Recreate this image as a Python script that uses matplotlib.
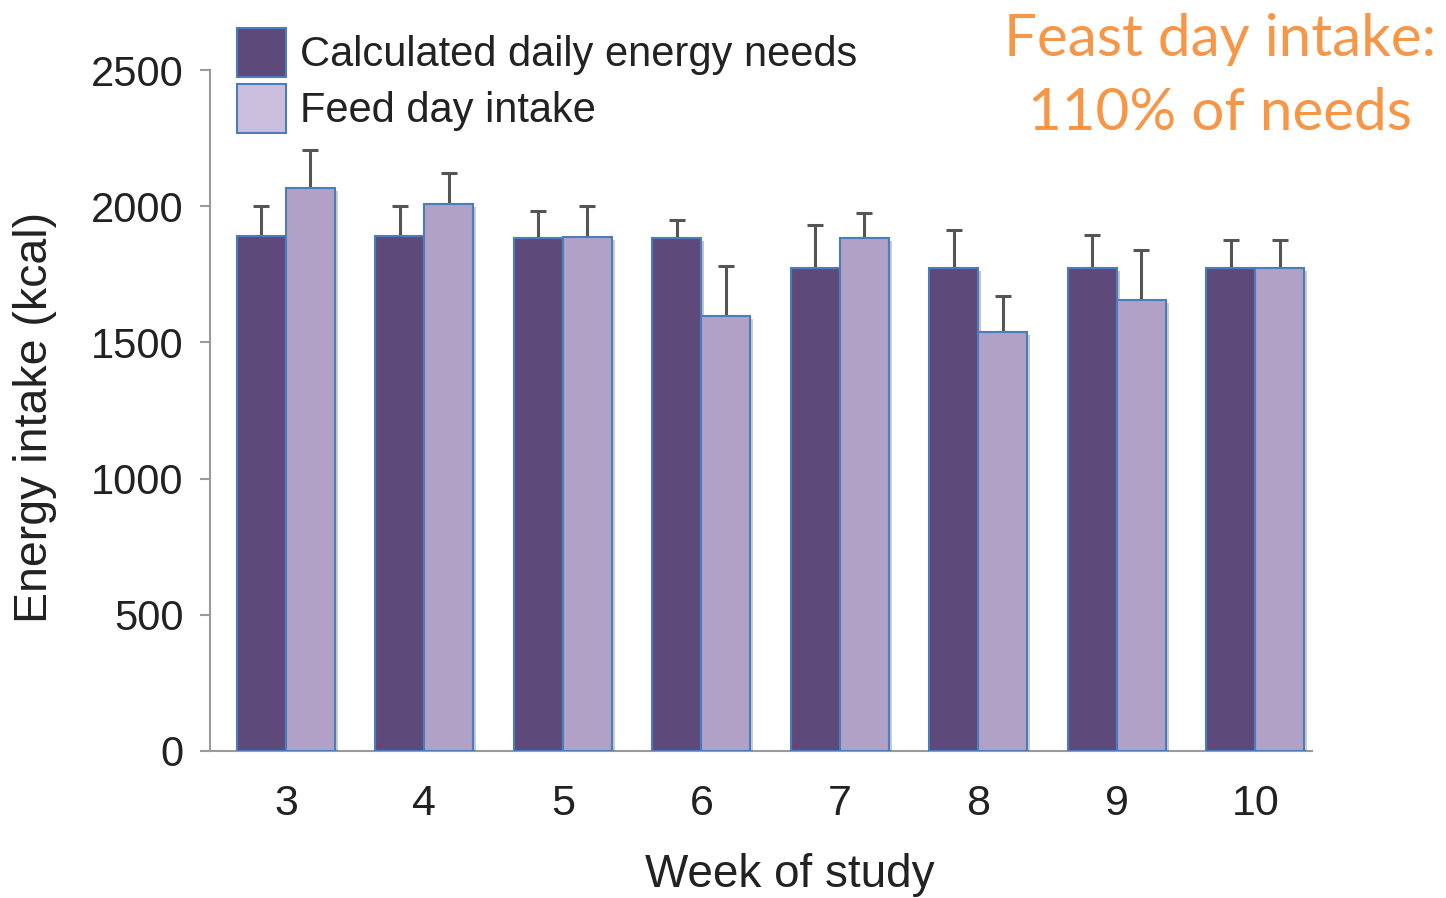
import numpy as np
import matplotlib
matplotlib.use("Agg")
import matplotlib.pyplot as plt
import matplotlib.patheffects as pe
from matplotlib.patches import Patch

# =========================================
# DATA
# =========================================
weeks = ["3", "4", "5", "6", "7", "8", "9", "10"]

needs = [1890, 1890, 1883, 1883, 1773, 1773, 1773, 1773]
needs_err = [110, 110, 100, 65, 158, 140, 121, 103]

feed = [2067, 2008, 1887, 1597, 1883, 1538, 1656, 1773]
feed_err = [139, 114, 113, 183, 92, 132, 183, 103]

series_labels = ["Calculated daily energy needs", "Feed day intake"]

# =========================================
# STYLE
# =========================================
dark = "#5e4a7a"
light = "#b1a1c7"
light_key = "#cbbfdd"
edge = "#4a7ebb"
err_color = "#555555"
axis_gray = "#9a9a9a"
text_color = "#222222"

plt.rcParams["font.family"] = ["Liberation Sans", "DejaVu Sans"]

fig = plt.figure(figsize=(14.46, 8.98), dpi=100)
ax = fig.add_axes([0.1452, 0.1637, 0.7621, 0.7583])

x = np.arange(len(weeks))
width = 0.354

shadow = [pe.SimplePatchShadow(offset=(2, -2), alpha=0.25), pe.Normal()]

bars1 = ax.bar(
    x - width / 2, needs, width,
    color=dark, edgecolor=edge, linewidth=1.5,
    zorder=3
)
bars2 = ax.bar(
    x + width / 2, feed, width,
    color=light, edgecolor=edge, linewidth=1.5,
    zorder=3
)
for b in list(bars1) + list(bars2):
    b.set_path_effects(shadow)

# upward error bars only
for xs, vals, errs in [(x - width / 2, needs, needs_err),
                       (x + width / 2, feed, feed_err)]:
    ax.errorbar(
        xs, vals,
        yerr=[np.zeros(len(errs)), errs],
        fmt="none", ecolor=err_color,
        elinewidth=2.2, capsize=5.5, capthick=2.2,
        zorder=2
    )

# =========================================
# AXES
# =========================================
ax.set_xlim(-0.549, 7.41)
ax.set_ylim(0, 2500)
ax.set_yticks([0, 500, 1000, 1500, 2000, 2500])
ax.set_xticks(x)
ax.set_xticklabels(weeks)

for side in ["top", "right"]:
    ax.spines[side].set_visible(False)
for side in ["left", "bottom"]:
    ax.spines[side].set_color(axis_gray)
    ax.spines[side].set_linewidth(1.5)

ax.tick_params(axis="y", length=7, width=1.5, color=axis_gray,
               pad=12, labelsize=30, labelcolor=text_color)
ax.tick_params(axis="x", length=0, pad=24, labelsize=31,
               labelcolor=text_color)

ax.set_ylabel("Energy intake (kcal)", fontsize=33.5, color=text_color)
ax.yaxis.set_label_coords(-0.139, 0.49)
ax.set_xlabel("Week of study", fontsize=33, color=text_color)
ax.xaxis.set_label_coords(0.526, -0.150)

# =========================================
# LEGEND
# =========================================
handles = [
    Patch(facecolor=dark, edgecolor=edge, linewidth=1.5),
    Patch(facecolor=light_key, edgecolor=edge, linewidth=1.5),
]
fig.legend(
    handles, series_labels,
    loc="upper left", bbox_to_anchor=(0.1639, 0.9688),
    frameon=False, fontsize=30, borderpad=0, borderaxespad=0,
    handlelength=1.18, handleheight=1.43, handletextpad=0.33,
    labelspacing=0.17, labelcolor=text_color
)

# =========================================
# ANNOTATION
# =========================================
fig.text(
    0.8435, 0.915, "Feast day intake:\n110% of needs",
    ha="center", va="center", fontsize=42, color="#f79646",
    family=["Lato", "DejaVu Sans"], linespacing=1.5
)

fig.savefig("out.png", dpi=100)
